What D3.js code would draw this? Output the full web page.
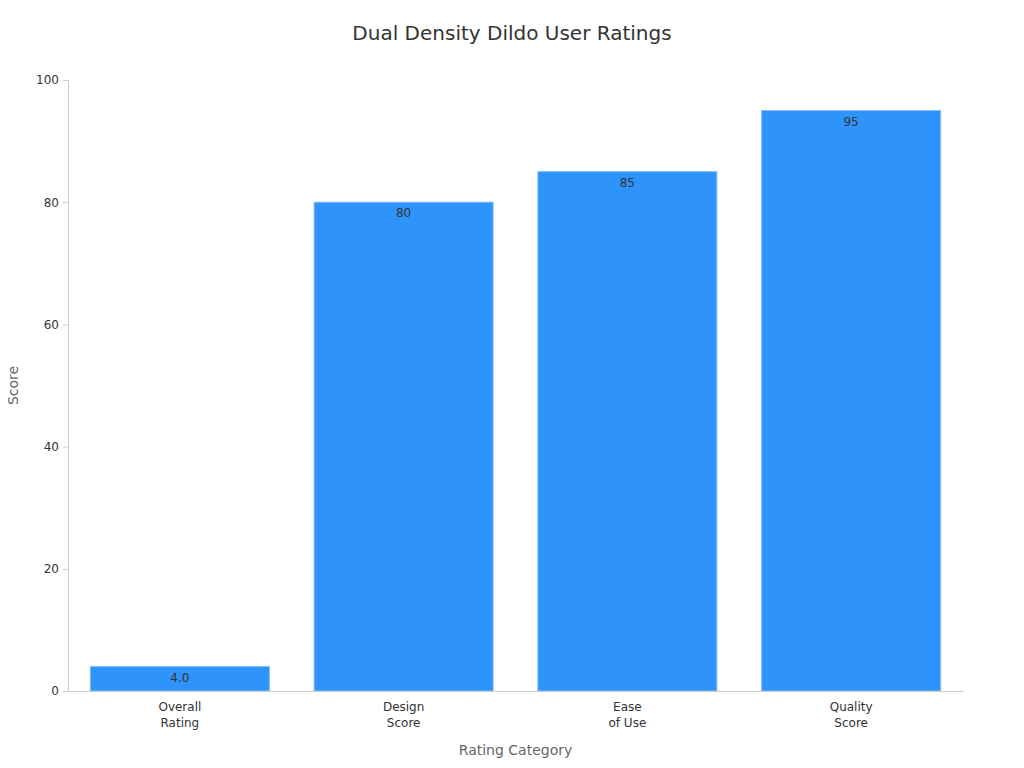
<!DOCTYPE html>
<html><head><meta charset="utf-8">
<script src="https://cdn.jsdelivr.net/npm/d3@7"></script>
<style>body{margin:0;background:#fff;font-family:"DejaVu Sans",sans-serif;}</style>
</head><body><svg id="c" width="1024" height="768"></svg>
<script>
const categories = [["Overall","Rating"],["Design","Score"],["Ease","of Use"],["Quality","Score"]];
const values = [4.0, 80, 85, 95];
const valueLabels = ["4.0","80","85","95"];
const yTicks = [0,20,40,60,80,100];

const svg = d3.select("#c");
const m = {l:68, r:61, t:80, b:77};
const W = 1024, H = 768;
const x = d3.scaleBand().domain(d3.range(categories.length)).range([m.l, W-m.r]).paddingInner(0.2).paddingOuter(0.1);
const y = d3.scaleLinear().domain([0,100]).range([H-m.b, m.t]);

svg.append("text").attr("x",512).attr("y",40).attr("text-anchor","middle")
  .attr("font-size",20).attr("fill","#333").text("Dual Density Dildo User Ratings");

svg.selectAll("rect.bar").data(values).enter().append("rect")
  .attr("x",(d,i)=>x(i)).attr("width",x.bandwidth())
  .attr("y",d=>y(d)).attr("height",d=>y(0)-y(d))
  .attr("fill","#2e93fa").attr("stroke","#7fbcf7").attr("stroke-width",1);

svg.selectAll("text.val").data(values).enter().append("text")
  .attr("x",(d,i)=>x(i)+x.bandwidth()/2).attr("y",d=>y(d)+15)
  .attr("text-anchor","middle").attr("font-size",12).attr("fill","#333")
  .text((d,i)=>valueLabels[i]);

// y axis
const ya = svg.append("g").attr("transform",`translate(${m.l},0)`)
  .call(d3.axisLeft(y).tickValues(yTicks).tickSize(5).tickPadding(4));
ya.selectAll("path,line").attr("stroke","#ccc");
ya.selectAll("text").attr("font-size",12).attr("fill","#333").attr("font-family","DejaVu Sans");

// x axis
const xa = svg.append("g").attr("transform",`translate(0,${y(0)})`)
  .call(d3.axisBottom(x).tickSize(0).tickFormat(""));
xa.select("path").attr("stroke","#ccc");
xa.selectAll(".tick").each(function(d){
  const t = d3.select(this).append("text").attr("fill","#333").attr("font-size",12)
    .attr("text-anchor","middle").attr("font-family","DejaVu Sans");
  categories[d].forEach((s,k)=>t.append("tspan").attr("x",0).attr("y",20+k*16).text(s));
});

svg.append("text").attr("x",(m.l+W-m.r)/2).attr("y",755).attr("text-anchor","middle")
  .attr("font-size",14).attr("fill","#666").text("Rating Category");
svg.append("text").attr("transform",`translate(18,${(m.t+H-m.b)/2}) rotate(-90)`)
  .attr("text-anchor","middle").attr("font-size",14).attr("fill","#666").text("Score");
</script></body></html>
